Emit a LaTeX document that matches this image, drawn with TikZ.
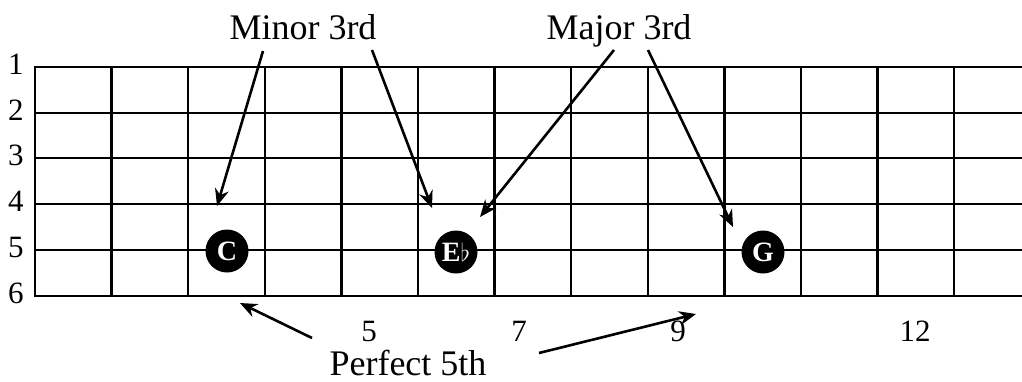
\documentclass[tikz,border=0pt]{standalone}
\usepackage{fontspec}
\setmainfont{Liberation Serif}
\usetikzlibrary{arrows.meta}
\begin{document}
\begin{tikzpicture}[x=1pt,y=-1pt,
  grid/.style={line width=2.4pt,line cap=rect},
  num/.style={font=\fontsize{31}{31}\selectfont,inner sep=0pt,anchor=base},
  lbl/.style={font=\fontsize{36}{36}\selectfont,inner sep=0pt,anchor=base},
  dot/.style={circle,fill=black,minimum size=43pt,inner sep=0pt,text=white,font=\bfseries\fontsize{28}{28}\selectfont},
  arr/.style={line width=2.6pt,-{Stealth[length=17pt,width=14pt]}}]
\useasboundingbox (0,0) rectangle (1022,381);
% strings
\foreach \i/\y in {1/67,2/113,3/158,4/204,5/250,6/296}{
  \draw[grid] (35,\y) -- (1022,\y);
  \node[num] (s\i) at (16,\y+7) {\i};
}
% frets
\foreach \k in {0,...,12}{
  \draw[grid] ({35+76.6*\k},67) -- ({35+76.6*\k},296);
}
% fret numbers
\node[num] (f5) at (369,341) {5};
\node[num] (f7) at (519,341) {7};
\node[num] (f9) at (678,341) {9};
\node[num] (f12) at (915,341) {12};
% dots
\node[dot] (C) at (227,251) {C};
\node[dot] (Eb) at (456,252) {E$\flat$};
\node[dot] (G) at (763,252) {G};
% labels
\node[lbl] (minor) at (303,39) {Minor 3rd};
\node[lbl] (major) at (619,39) {Major 3rd};
\node[lbl] (perfect) at (408,375) {Perfect 5th};
% connector ends
\coordinate (m1s) at (263,51);
\coordinate (m1e) at (217,206);
\coordinate (m2s) at (372,50);
\coordinate (m2e) at (432,208);
\coordinate (M1s) at (614,50);
\coordinate (M1e) at (480,217);
\coordinate (M2s) at (648,50);
\coordinate (M2e) at (733,227);
\coordinate (p1s) at (312,338);
\coordinate (p1e) at (240,303);
\coordinate (p2s) at (539,353);
\coordinate (p2e) at (696,314);
\draw[arr] (m1s) -- (m1e);
\draw[arr] (m2s) -- (m2e);
\draw[arr] (M1s) -- (M1e);
\draw[arr] (M2s) -- (M2e);
\draw[arr] (p1s) -- (p1e);
\draw[arr] (p2s) -- (p2e);
\end{tikzpicture}
\end{document}
